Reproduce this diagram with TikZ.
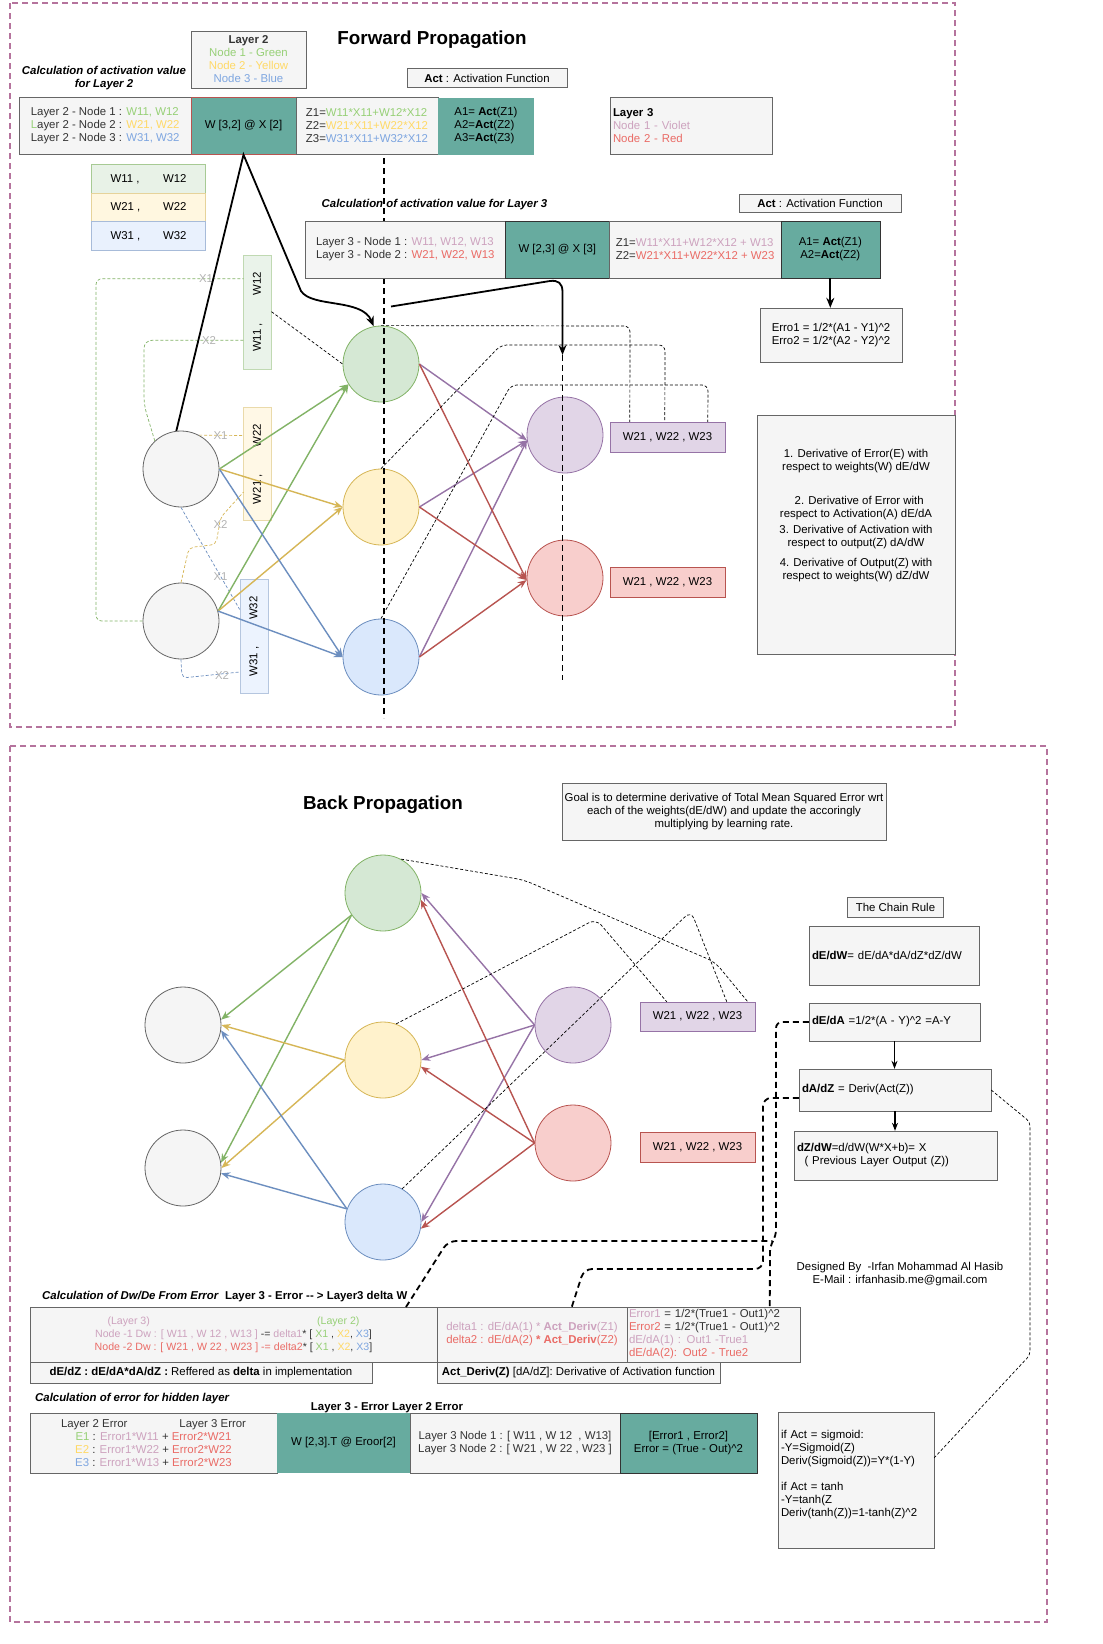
\documentclass[tikz,border=0pt]{standalone}
\usepackage{fontspec}
\setmainfont{Liberation Sans}
\usetikzlibrary{arrows.meta,calc}

\definecolor{boxfill}{HTML}{F5F5F5}
\definecolor{boxline}{HTML}{666666}
\definecolor{boxtext}{HTML}{333333}
\definecolor{tealfill}{HTML}{67AB9F}
\definecolor{framecol}{HTML}{B5739D}
\definecolor{gfill}{HTML}{D5E8D4}
\definecolor{gline}{HTML}{82B366}
\definecolor{yfill}{HTML}{FFF2CC}
\definecolor{yline}{HTML}{D6B656}
\definecolor{bfill}{HTML}{DAE8FC}
\definecolor{bline}{HTML}{6C8EBF}
\definecolor{vfill}{HTML}{E1D5E7}
\definecolor{vline}{HTML}{9673A6}
\definecolor{rfill}{HTML}{F8CECC}
\definecolor{rline}{HTML}{B85450}
\definecolor{gtxt}{HTML}{97D077}
\definecolor{ytxt}{HTML}{FFD966}
\definecolor{btxt}{HTML}{7EA6E0}
\definecolor{vtxt}{HTML}{CDA2BE}
\definecolor{rtxt}{HTML}{EA6B66}
\definecolor{xtxt}{HTML}{B3B3B3}

\newcommand{\bodysize}{\fontsize{11.4}{13}\selectfont}
\newcommand{\smallbody}{\fontsize{10.6}{13}\selectfont}
\newcommand{\headsize}{\fontsize{18.8}{22}\selectfont}
\newcommand{\tgreen}[1]{\textcolor{gtxt}{#1}}
\newcommand{\tyellow}[1]{\textcolor{ytxt}{#1}}
\newcommand{\tblue}[1]{\textcolor{btxt}{#1}}
\newcommand{\tviolet}[1]{\textcolor{vtxt}{#1}}
\newcommand{\tred}[1]{\textcolor{rtxt}{#1}}
\newcommand{\hatsym}{\textasciicircum}

\tikzset{
  txt/.style={font=\bodysize, inner sep=2pt, align=center},
  cell/.style 2 args={minimum width=#1, minimum height=#2},
  graybox/.style={txt, draw=boxline, fill=boxfill, text=boxtext},
  tealbox/.style={txt, fill=tealfill, text=black},
  wbox/.style 2 args={txt, draw=#1, fill=#2, text=black},
  neuron/.style={circle, minimum size=76pt, inner sep=0pt, line width=0.8pt},
  nnode/.style={neuron, draw=boxline, fill=boxfill},
  gnode/.style={neuron, draw=gline, fill=gfill},
  ynode/.style={neuron, draw=yline, fill=yfill},
  bnode/.style={neuron, draw=bline, fill=bfill},
  vnode/.style={neuron, draw=vline, fill=vfill},
  rnode/.style={neuron, draw=rline, fill=rfill},
  wire/.style={line width=1.4pt, -{Stealth[length=9pt,width=7pt]}},
  xline/.style={line width=0.7pt, dash pattern=on 3pt off 2pt},
  xlab/.style={font=\bodysize, text=xtxt, inner sep=0pt},
  dotline/.style={black, line width=0.7pt, dash pattern=on 3pt off 2pt},
  bigarrow/.style={black, line width=1.8pt, -{Stealth[length=10pt,width=8pt]}},
  bigdash/.style={black, line width=1.8pt, dash pattern=on 6pt off 4pt},
  flowarrow/.style={black, line width=1.1pt, -{Stealth[length=8pt,width=6pt]}},
  framebox/.style={draw=framecol, line width=1.3pt, dash pattern=on 6pt off 4pt}
}

\begin{document}
\begin{tikzpicture}[x=1pt, y=-1pt]
    \path[fill=white] (0,0) rectangle (1103,1644);

    % Forward propagation
    \draw[framebox] (10,3) rectangle (955,727);
    \node[txt, font=\headsize\bfseries] (fwdtitle) at (432,40) {Forward Propagation};

    \node[graybox, cell={115}{57}] (leg2) at (248.5,59.5) {\textbf{Layer 2}\\\tgreen{Node 1 - Green}\\\tyellow{Node 2 - Yellow}\\\tblue{Node 3 - Blue}};
    \node[txt, font=\bodysize\bfseries\itshape] (calc2) at (104,78) {Calculation of activation value\\for Layer 2};
    \node[graybox, text=black, cell={160}{19}] (act1) at (487,78) {\textbf{Act} : Activation Function};

    \node[graybox, cell={172}{57}, align=left] (t1n) at (105.2,126) {Layer 2 - Node 1 : \tgreen{W11, W12}\\\tgreen{L}ayer 2 - Node 2 : \tyellow{W21, W22}\\Layer 2 - Node 3 : \tblue{W31, W32}};
    \node[tealbox, draw=rline, cell={105}{57}] (t1w) at (243.5,126) {W [3,2] @ X [2]};
    \node[graybox, cell={142}{57}, align=left] (t1z) at (367,126) {Z1=\tgreen{W11*X11+W12*X12}\\Z2=\tyellow{W21*X11+W22*X12}\\Z3=\tblue{W31*X11+W32*X12}};
    \node[tealbox, cell={96}{57}, align=left] (t1a) at (486,126) {A1= \textbf{Act}(Z1)\\A2=\textbf{Act}(Z2)\\A3=\textbf{Act}(Z3)};

    \node[graybox, text=black, cell={162}{57}, text width=156pt, align=left] (leg3) at (691,126) {\textbf{Layer 3}\\\tviolet{Node 1 - Violet}\\\tred{Node 2 - Red}};

    \node[wbox={gline!70}{gfill!55}, cell={114}{28.5}] (wt1) at (148.5,178.75) {\makebox[76pt]{W11 ,\hfill W12}};
    \node[wbox={yline!60}{yfill!60}, cell={114}{28.5}] (wt2) at (148.5,207.25) {\makebox[76pt]{W21 ,\hfill W22}};
    \node[wbox={bline!60}{bfill!60}, cell={114}{28.5}] (wt3) at (148.5,235.75) {\makebox[76pt]{W31 ,\hfill W32}};

    % Network, layer 1 to 3
    \node[nnode] (in1) at (181,469) {};
    \node[nnode] (in2) at (181,621) {};
    \node[gnode] (g2) at (381,364) {};
    \node[ynode] (y2) at (381,507) {};
    \node[bnode] (b2) at (381,657) {};
    \node[vnode] (v3) at (565,435) {};
    \node[rnode] (r3) at (565,578) {};

    \node[wbox={gline!50}{gfill!50}, rotate=90, cell={114}{28}] (wg) at (257.5,311.8) {\makebox[80pt]{W11 ,\hfill W12}};
    \node[wbox={yline!50}{yfill!50}, rotate=90, cell={113}{28}] (wy) at (257.5,464) {\makebox[80pt]{W21 ,\hfill W22}};
    \node[wbox={bline!50}{bfill!50}, rotate=90, cell={114}{28.6}] (wb) at (254,636.4) {\makebox[80pt]{W31 ,\hfill W32}};
    \node[wbox={vline}{vfill}, cell={115}{30}] (wv) at (667.5,437) {W21 , W22 , W23};
    \node[wbox={rline}{rfill}, cell={115}{30}] (wr) at (667.5,582) {W21 , W22 , W23};

    \coordinate (gx1) at (243.5,278.7);
    \coordinate (gx2) at (243.5,340.3);
    \coordinate (yx1) at (243.5,435.5);
    \coordinate (yx2) at (243.5,492);
    \coordinate (bx1) at (239.7,609.5);
    \coordinate (bx2) at (239.7,672);
    \coordinate (wgout) at (271.5,311.7);
    \coordinate (l2top) at (391,306.5);
    \coordinate (l3in) at (562.5,355);

    \draw[xline, gline, rounded corners=6pt] (in2.west) -- (96,621) -- (96,278.7) -- (gx1);
    \draw[xline, gline, rounded corners=8pt] (in1.133) -- (144,405) -- (144,340.3) -- (gx2);
    \draw[xline, yline] (in1.62) -- (yx1);
    \draw[xline, yline, rounded corners=5pt] (in2.north) -- (189,547.6) -- (216,544.4) -- (220.6,517.5) -- (yx2);
    \draw[xline, bline] (in1.south) -- (bx1);
    \draw[xline, bline, rounded corners=5pt] (in2.south) -- (182,678) -- (bx2);
    \node[xlab] (x1g) at (206,278.7) {X1};
    \node[xlab] (x2g) at (209,340.3) {X2};
    \node[xlab] (x1y) at (220.6,435.5) {X1};
    \node[xlab] (x2y) at (220.6,524.4) {X2};
    \node[xlab] (x1b) at (220.6,576.2) {X1};
    \node[xlab] (x2b) at (222,676) {X2};

    \draw[wire, gline] (in1.east) -- (g2.212);
    \draw[wire, gline] (in2.15) -- (g2.212);
    \draw[wire, yline] (in1.east) -- (y2.west);
    \draw[wire, yline] (in2.15) -- (y2.west);
    \draw[wire, bline] (in1.east) -- (b2.west);
    \draw[wire, bline] (in2.15) -- (b2.west);
    \draw[wire, vline] (g2.east) -- (v3.188);
    \draw[wire, vline] (y2.east) -- (v3.188);
    \draw[wire, vline] (b2.east) -- (v3.188);
    \draw[wire, rline] (g2.east) -- (r3.183);
    \draw[wire, rline] (y2.east) -- (r3.183);
    \draw[wire, rline] (b2.east) -- (r3.183);

    \draw[dotline] (wgout) -- (g2.west);
    \draw[dotline, rounded corners=6pt] (g2.north) -- (630,326) -- ($(wv.north west)+(20,0)$);
    \draw[dotline, rounded corners=6pt] (y2.north) -- (501,345) -- (665,345) -- ($(wv.north west)+(55,0)$);
    \draw[dotline, rounded corners=6pt] (b2.north) -- (511,385) -- (708,385) -- ($(wv.north west)+(98,0)$);

    \draw[bigdash] (384,158) -- (384,718);
    \draw[bigdash] (l3in) -- (562.5,680);

    % Layer 3 calculation
    \node[txt, font=\bodysize\bfseries\itshape] (calc3) at (434.5,205) {Calculation of activation value for Layer 3};
    \node[graybox, text=black, cell={162}{17.5}] (act2) at (820,203) {\textbf{Act} : Activation Function};
    \node[graybox, cell={200}{56.5}, align=left] (t2n) at (405.3,249.5) {Layer 3 - Node 1 : \tviolet{W11, W12, W13}\\Layer 3 - Node 2 : \tred{W21, W22, W13}};
    \node[tealbox, draw=black!80, cell={104.2}{56.5}] (t2w) at (557.3,249.5) {W [2,3] @ X [3]};
    \node[graybox, cell={171.4}{56.5}, align=left] (t2z) at (695.1,249.5) {Z1=\tviolet{W11*X11+W12*X12 + W13}\\Z2=\tred{W21*X11+W22*X12 + W23}};
    \node[tealbox, draw=black!80, cell={99}{56.5}] (t2a) at (830.3,249.5) {A1= \textbf{Act}(Z1)\\A2=\textbf{Act}(Z2)};
    \node[graybox, text=black, cell={142}{54}] (erro) at (831,335) {Erro1 = 1/2*(A1 - Y1)\hatsym2\\Erro2 = 1/2*(A2 - Y2)\hatsym2};
    \node[graybox, text=black, cell={198}{239}] (deriv) at (856,534.5) {1. Derivative of Error(E) with\\respect to weights(W) dE/dW\\[21pt]\ \ 2. Derivative of Error with\\respect to Activation(A) dE/dA\\[3pt]3. Derivative of Activation with\\respect to output(Z) dA/dW\\[7pt]4. Derivative of Output(Z) with\\respect to weights(W) dZ/dW\\[28pt]\mbox{}};

    \draw[bigarrow] (in1.97) -- (t1w.south) -- (301,291) .. controls (312,308) and (362,298) .. (g2.101);
    \draw[bigarrow] (l2top) -- (550,281) .. controls (558,280) and (562.5,283) .. (562.5,292) -- (l3in);
    \draw[bigarrow] (t2a.south) -- (t2a.south |- erro.north);

    % Back propagation
    \draw[framebox] (10,746) rectangle (1047,1622);
    \node[txt, font=\headsize\bfseries] (bwdtitle) at (383,805) {Back Propagation};
    \node[graybox, text=black, cell={324}{57}, inner sep=1pt] (goal) at (724,811.5) {Goal is to determine derivative of Total Mean Squared Error wrt\\each of the weights(dE/dW) and update the accoringly\\multiplying by learning rate.};

    \node[graybox, text=black, cell={96}{19.5}] (chain) at (895.5,907) {The Chain Rule};
    \node[graybox, text=black, cell={170}{59}, text width=164pt, align=left] (dedw) at (894,955.5) {\textbf{dE/dW}= dE/dA*dA/dZ*dZ/dW};
    \node[graybox, text=black, cell={171}{38}, text width=165pt, align=left] (deda) at (894.5,1022) {\textbf{dE/dA} =1/2*(A - Y)\hatsym2 =A-Y};
    \node[graybox, text=black, cell={192}{42}, text width=186pt, align=left] (dadz) at (895,1090) {\textbf{dA/dZ} = Deriv(Act(Z))};
    \node[graybox, text=black, cell={203}{49}, text width=197pt, align=left] (dzdw) at (895.5,1155.5) {\textbf{dZ/dW}=d/dW(W*X+b)= X\\\ \ ( Previous Layer Output (Z))};
    \draw[flowarrow] (deda.south) -- (deda.south |- dadz.north);
    \draw[flowarrow] (dadz.south) -- (dadz.south |- dzdw.north);

    \node[txt, text=black] (credit) at (900,1274) {Designed By \ -Irfan Mohammad Al Hasib\\E-Mail : irfanhasib.me@gmail.com};
    \node[graybox, text=black, cell={156}{136}, text width=150pt, align=left] (ifact) at (856,1480) {if Act = sigmoid:\\-Y=Sigmoid(Z)\\Deriv(Sigmoid(Z))=Y*(1-Y)\\[13pt]if Act = tanh\\-Y=tanh(Z\\Deriv(tanh(Z))=1-tanh(Z)\hatsym2\\\mbox{}};
    \draw[dotline, rounded corners=4pt] (dadz.east) -- (1030,1122) -- (1030,1355) -- ($(ifact.north east)+(0,46)$);

    % Network, layer 3 back to 1
    \node[nnode] (bi1) at (183,1025) {};
    \node[nnode] (bi2) at (183,1168) {};
    \node[gnode] (bg2) at (383,893) {};
    \node[ynode] (by2) at (383,1060) {};
    \node[bnode] (bb2) at (383,1222) {};
    \node[vnode] (bv3) at (573,1025) {};
    \node[rnode] (br3) at (573,1143) {};
    \node[wbox={vline}{vfill}, cell={115}{29}] (wbv) at (697.5,1016.5) {W21 , W22 , W23};
    \node[wbox={rline}{rfill}, cell={115}{30}] (wbr) at (697.5,1147) {W21 , W22 , W23};

    \draw[wire, gline] (bg2.215) -- (bi1.8);
    \draw[wire, gline] (bg2.215) -- (bi2.8);
    \draw[wire, yline] (by2.west) -- (bi1.0);
    \draw[wire, yline] (by2.west) -- (bi2.0);
    \draw[wire, bline] (bb2.160) -- (bi1.352);
    \draw[wire, bline] (bb2.160) -- (bi2.352);
    \draw[wire, vline] (bv3.west) -- (bg2.east);
    \draw[wire, vline] (bv3.west) -- (by2.east);
    \draw[wire, vline] (bv3.west) -- (bb2.east);
    \draw[wire, rline] (br3.west) -- (bg2.350);
    \draw[wire, rline] (br3.west) -- (by2.350);
    \draw[wire, rline] (br3.west) -- (bb2.350);

    \draw[dotline, rounded corners=8pt] (bg2.62) -- (524,880) -- (715,962) -- ($(wbv.north west)+(108,0)$);
    \draw[dotline, rounded corners=8pt] (by2.70) -- (596,919) -- ($(wbv.north west)+(27,0)$);
    \draw[dotline, rounded corners=8pt] (bb2.60) -- (691,911) -- ($(wbv.north west)+(87,0)$);

    % Delta W tables
    \node[txt, font=\bodysize\bfseries, anchor=west] (dwlabel) at (40,1297) {\textit{Calculation of Dw/De From Error}\ \ Layer 3 - Error -{}- > Layer3 delta W};
    \node[graybox, font=\smallbody, cell={407}{55}] (dwn) at (233.5,1334.5) {\makebox[252pt]{\tviolet{(Layer 3)}\hfill\tgreen{(Layer 2)}}\\\tviolet{Node -1 Dw : [ W11 , W 12 , W13 ]} -= \tviolet{delta1}* [ \tgreen{X1} , \tyellow{X2}, \tblue{X3}]\\\tred{Node -2 Dw : [ W21 , W 22 , W23 ] -= delta2}* [ \tgreen{X1} , \tyellow{X2}, \tblue{X3}]};
    \node[graybox, cell={190}{55}] (dlt) at (532,1334.5) {\tviolet{delta1 : dE/dA(1) * \textbf{Act\_Deriv}(Z1)}\\\tred{delta2 : dE/dA(2) \textbf{* Act\_Deriv}(Z2)}};
    \node[graybox, cell={173}{55}, text width=169pt, align=left] (errc) at (713.5,1334.5) {\tviolet{Error1} = 1/2*(True1 - Out1)\hatsym2\\\tred{Error2} = 1/2*(True1 - Out1)\hatsym2\\\tviolet{dE/dA(1) : Out1 -True1}\\\tred{dE/dA(2): Out2 - True2}};
    \node[graybox, text=black, cell={342}{21}] (dzrow) at (201,1372.5) {\textbf{dE/dZ : dE/dA*dA/dZ :} Reffered as \textbf{delta} in implementation};
    \node[graybox, text=black, cell={283}{21}] (actd) at (578.5,1372.5) {\textbf{Act\_Deriv(Z)} [dA/dZ]: Derivative of Activation function};

    \coordinate (p3start) at (406,1307);
    \draw[bigdash, rounded corners=6pt] (deda.west) -- (776,1022) -- (776,1236) -- (770,1246) -- ($(errc.north west)+(143,0)$);
    \draw[bigdash, rounded corners=8pt] ($(dadz.west)+(0,8)$) -- (763,1098) -- (763,1269) -- (584,1269) -- ($(dlt.north west)+(135,0)$);
    \draw[bigdash, rounded corners=8pt] (p3start) -- (448,1241) -- (772,1241);

    % Hidden layer error table
    \node[txt, font=\bodysize\bfseries\itshape, anchor=west] (hidlabel) at (33,1399) {Calculation of error for hidden layer};
    \node[txt, font=\bodysize\bfseries] (l3elabel) at (387,1408) {Layer 3 - Error Layer 2 Error};
    \node[graybox, cell={247}{60}] (e2n) at (153.5,1443) {\makebox[185pt]{Layer 2 Error\hfill Layer 3 Error}\\\tgreen{E1} : \tviolet{Error1*W11} + \tred{Error2*W21}\\\tyellow{E2} : \tviolet{Error1*W22} + \tred{Error2*W22}\\\tblue{E3} : \tviolet{Error1*W13} + \tred{Error2*W23}};
    \node[tealbox, cell={133}{60}] (e2w) at (343.5,1443) {W [2,3].T @ Eroor[2]};
    \node[graybox, cell={210}{60}] (e2l) at (515,1443) {Layer 3 Node 1 : [ W11 , W 12 \ , W13]\\Layer 3 Node 2 : [ W21 , W 22 , W23 ]};
    \node[tealbox, draw=black!80, cell={137}{60}] (e2e) at (688.5,1443) {[Error1 , Error2]\\Error = (True - Out)\hatsym2};
\end{tikzpicture}
\end{document}
